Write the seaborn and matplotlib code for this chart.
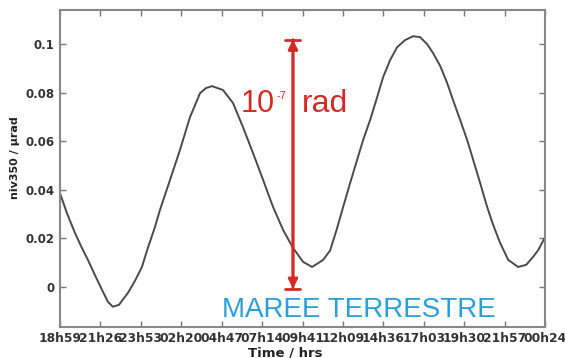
#!/usr/bin/env python3
# tidal tilt (niv350) over ~29 h, with amplitude arrow and caption
import seaborn as sns
import pandas as pd
import matplotlib.pyplot as plt

# values
hours = [0.0, 0.42, 0.91, 1.33, 1.70, 2.12, 2.55, 2.91, 3.21, 3.58, 4.12, 4.55,
         4.97, 5.33, 5.76, 6.06, 6.67, 7.27, 7.88, 8.49, 8.85, 9.21, 9.88,
         10.49, 11.09, 11.70, 12.31, 12.91, 13.52, 14.12, 14.73, 15.28, 15.94,
         16.37, 16.76, 17.16, 17.58, 18.00, 18.37, 18.79, 19.22, 19.58, 20.00,
         20.43, 20.91, 21.40, 21.82, 22.25, 22.61, 23.04, 23.46, 23.82, 24.25,
         24.67, 25.04, 25.46, 25.88, 26.25, 26.67, 27.16, 27.76, 28.25, 28.67,
         28.98, 29.40]
niv350 = [0.0388, 0.0305, 0.0223, 0.0161, 0.0111, 0.0049, -0.0012, -0.0062,
          -0.0082, -0.0074, -0.0025, 0.0025, 0.0082, 0.0161, 0.0247, 0.0317,
          0.0441, 0.0564, 0.0700, 0.0799, 0.0820, 0.0828, 0.0812, 0.0758,
          0.0659, 0.0552, 0.0441, 0.0330, 0.0235, 0.0161, 0.0103, 0.0082,
          0.0111, 0.0150, 0.0235, 0.0330, 0.0428, 0.0523, 0.0606, 0.0688,
          0.0783, 0.0865, 0.0935, 0.0989, 0.1018, 0.1034, 0.1030, 0.1001,
          0.0964, 0.0911, 0.0841, 0.0770, 0.0688, 0.0606, 0.0523, 0.0428,
          0.0330, 0.0255, 0.0181, 0.0111, 0.0082, 0.0091, 0.0124, 0.0152,
          0.0206]

tick_hours = [0, 2.45, 4.9, 7.35, 9.8, 12.25, 14.7, 17.15, 19.6, 22.05, 24.5, 26.95, 29.4]
tick_labels = ['18h59', '21h26', '23h53', '02h20', '04h47', '07h14', '09h41',
               '12h09', '14h36', '17h03', '19h30', '21h57', '00h24']
y_ticks = [0, 0.02, 0.04, 0.06, 0.08, 0.1]
y_tick_labels = ['0', '0.02', '0.04', '0.06', '0.08', '0.1']

# amplitude marker (10^-7 rad)
arrow_x = 14.12
arrow_lo, arrow_hi = -0.0008, 0.1020

df = pd.DataFrame({'Time / hrs': hours, 'niv350 / µrad': niv350})

sns.set_theme(style='ticks')
plt.rcParams['font.family'] = ['DejaVu Sans']

fig = plt.figure(figsize=(5.65, 3.58), dpi=100)
ax = fig.add_axes([0.106, 0.087, 0.859, 0.885])

sns.lineplot(data=df, x='Time / hrs', y='niv350 / µrad', color='#4a4a4a',
             linewidth=1.4, ax=ax)

ax.set_xlim(0, 29.4)
ax.set_ylim(-0.0165, 0.1142)
ax.set_xticks(tick_hours)
ax.set_xticklabels(tick_labels, fontsize=8.8, fontweight='bold', color='#333333')
ax.set_yticks(y_ticks)
ax.set_yticklabels(y_tick_labels, fontsize=8.5, fontweight='bold', color='#333333')
ax.tick_params(direction='in', top=True, right=True, length=4, width=1,
               color='#777777', pad=4)
for sp in ax.spines.values():
    sp.set_color('#888888')
    sp.set_linewidth(1.5)

ax.set_xlabel('Time / hrs', fontsize=9.5, fontweight='bold', color='#222222')
ax.set_ylabel('niv350 / µrad', fontsize=8, fontweight='bold', color='#222222')
ax.xaxis.set_label_coords(0.464, -0.062)
ax.yaxis.set_label_coords(-0.082, 0.533)

red = '#d42a26'
ax.annotate('', xy=(arrow_x, arrow_hi), xytext=(arrow_x, arrow_lo),
            arrowprops=dict(arrowstyle='<|-|>', color=red, lw=2,
                            mutation_scale=14, shrinkA=0, shrinkB=0))
ax.annotate('', xy=(arrow_x, arrow_hi), xytext=(arrow_x, arrow_lo),
            arrowprops=dict(arrowstyle='|-|,widthA=0.45,widthB=0.45', color=red,
                            lw=2, shrinkA=0, shrinkB=0))

ax.text(13.03, 0.0721, '10', color=red, fontsize=22, ha='right',
        va='baseline', family='Liberation Sans')
ax.text(13.1, 0.0775, '-7', color=red, fontsize=8, ha='left',
        va='baseline', family='Liberation Sans')
ax.text(14.67, 0.0721, 'rad', color=red, fontsize=23, ha='left',
        va='baseline', family='Liberation Sans')
ax.text(9.82, -0.0124, 'MAREE TERRESTRE', color='#2a9fd8', fontsize=20,
        ha='left', va='baseline', family='Liberation Sans')

fig.savefig('out.png', dpi=100)
